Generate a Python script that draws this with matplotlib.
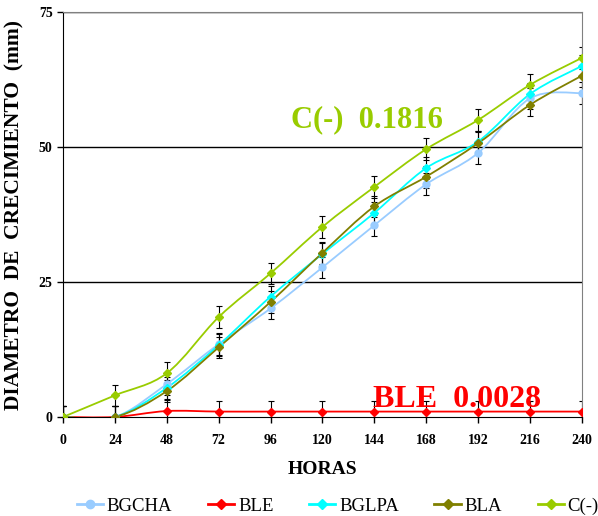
import numpy as np
import matplotlib.pyplot as plt
from matplotlib.path import Path
from matplotlib.patches import PathPatch

plt.rcParams['font.family'] = ['Liberation Serif', 'DejaVu Serif']

horas = [0, 24, 48, 72, 96, 120, 144, 168, 192, 216, 240]
bgcha = [0, 0, 6.1, 13.5, 20.1, 27.7, 35.5, 43.1, 48.9, 59.0, 60.0]
ble = [0, 0, 1.1, 1.0, 1.0, 1.0, 1.0, 1.0, 1.0, 1.0, 1.0]
bglpa = [0, 0, 5.4, 13.3, 22.3, 30.2, 37.8, 46.1, 51.0, 59.8, 65.0]
bla = [0, 0, 4.8, 12.9, 21.3, 30.4, 39.0, 44.5, 50.7, 57.8, 63.2]
cneg = [0, 4.0, 8.1, 18.5, 26.6, 35.2, 42.6, 49.6, 55.0, 61.5, 66.5]
err = 2.0

series = [
    ('BGCHA', bgcha, '#99CCFF', 'o', 5),
    ('BLE', ble, '#FF0000', 'D', 4),
    ('BGLPA', bglpa, '#00FFFF', 'D', 4),
    ('BLA', bla, '#808000', 'D', 4),
    ('C(-)', cneg, '#99CC00', 'D', 4),
]


def smooth_path(x, y, t=1 / 6):
    # curva suavizada tipo Excel (Bezier)
    x = np.asarray(x, float)
    y = np.asarray(y, float)
    verts = [(x[0], y[0])]
    codes = [Path.MOVETO]
    n = len(x)
    for i in range(n - 1):
        i0 = max(i - 1, 0)
        i3 = min(i + 2, n - 1)
        c1 = (x[i] + (x[i + 1] - x[i0]) * t, y[i] + (y[i + 1] - y[i0]) * t)
        c2 = (x[i + 1] - (x[i3] - x[i]) * t, y[i + 1] - (y[i3] - y[i]) * t)
        verts += [c1, c2, (x[i + 1], y[i + 1])]
        codes += [Path.CURVE4] * 3
    return Path(verts, codes)


fig = plt.figure(figsize=(5.98, 5.16), dpi=100)
ax = fig.add_axes([0.1054, 0.1919, 0.8675, 0.7848])

for yv in [25, 50, 75]:
    ax.axhline(yv, color='black', lw=1, zorder=1)

handles = []
for name, vals, col, mk, ms in series:
    ax.errorbar(horas, vals, yerr=err, fmt='none', ecolor='black', elinewidth=0.8,
                capsize=2, capthick=0.8, zorder=2)
    ax.add_patch(PathPatch(smooth_path(horas, vals), facecolor='none', edgecolor=col,
                           lw=1.3, zorder=3))
    ax.plot(horas, vals, linestyle='none', marker=mk, color=col, markersize=ms, zorder=4)
    h, = ax.plot([], [], color=col, marker=mk, markersize=ms + 1, lw=2, label=name)
    handles.append(h)

ax.text(105.3, 53.7, 'C(-)  0.1816', color='#99CC00', fontsize=22, fontweight='bold',
        ha='left', va='baseline')
ax.text(143.4, 1.8, 'BLE  0.0028', color='#FF0000', fontsize=23, fontweight='bold',
        ha='left', va='baseline')

ax.set_xlim(0, 240)
ax.set_ylim(0, 75)
ax.set_xticks(horas)
ax.set_yticks([0, 25, 50, 75])
ax.tick_params(axis='both', labelsize=10, direction='out', length=4, width=1)
for lab in ax.get_xticklabels() + ax.get_yticklabels():
    lab.set_fontweight('bold')
ax.tick_params(axis='x', pad=8)

ax.spines['top'].set_color('#808080')
ax.spines['right'].set_color('#808080')
ax.spines['left'].set_color('black')
ax.spines['bottom'].set_color('black')

ax.set_xlabel('HORAS', fontsize=14, fontweight='bold', labelpad=10)
ax.set_ylabel('DIAMETRO  DE  CRECIMIENTO  (mm)', fontsize=15.5, fontweight='bold', labelpad=10)

fig.legend(handles=handles, loc='lower center', ncol=5, frameon=False, fontsize=13.5,
           bbox_to_anchor=(0.565, -0.03), handlelength=1.4, handletextpad=0.2,
           columnspacing=1.9)

fig.savefig('out.png', dpi=100)
